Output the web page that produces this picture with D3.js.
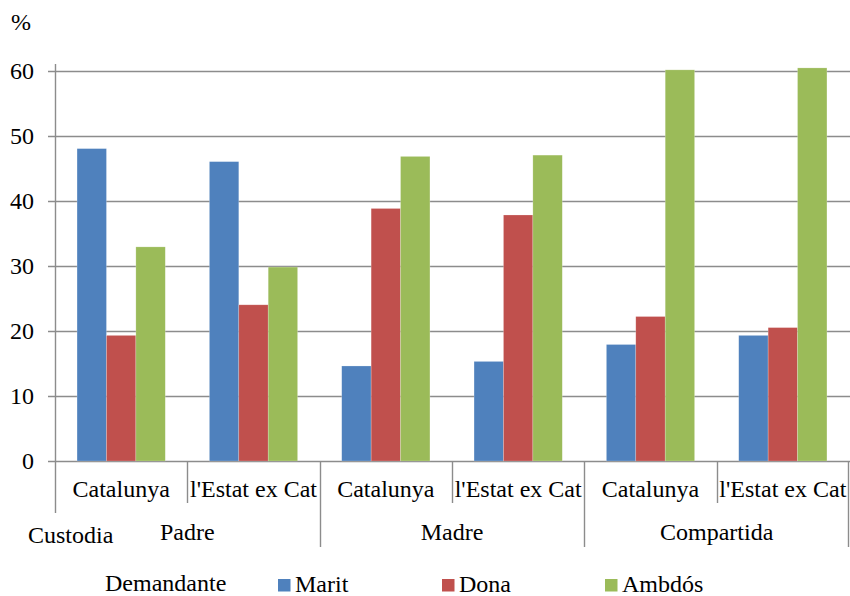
<!DOCTYPE html>
<html>
<head>
<meta charset="utf-8">
<script src="https://cdn.jsdelivr.net/npm/d3@7"></script>
<style>
  html, body { margin: 0; padding: 0; background: #fff; }
  svg { display: block; }
  svg text { font-family: "Liberation Serif", "Times New Roman", serif; font-size: 24px; fill: #000; }
</style>
</head>
<body>
<svg id="chart" width="850" height="596"></svg>
<script>
const groups = ["Padre", "Madre", "Compartida"];
const regions = ["Catalunya", "l'Estat ex Cat"];
const seriesNames = ["Marit", "Dona", "Ambdós"];
const marit = [48.0, 46.0, 14.6, 15.3, 17.9, 19.3];
const dona = [19.3, 24.0, 38.8, 37.8, 22.2, 20.5];
const ambdos = [32.9, 29.8, 46.8, 47.0, 60.1, 60.4];
const yTicks = [0, 10, 20, 30, 40, 50, 60];
const colors = ["#4F81BD", "#C0504D", "#9BBB59"];

const seriesValues = [marit, dona, ambdos];
const categories = [];
groups.forEach(g => regions.forEach(r => categories.push({ key: g + "|" + r, group: g, region: r })));

const svg = d3.select("#chart");
const plotLeft = 55, plotRight = 849, plotTop = 64, plotBottom = 461;

const x = d3.scaleBand().domain(categories.map(c => c.key)).range([plotLeft, plotRight]).padding(0);
const xInner = d3.scaleBand().domain(seriesNames)
  .range([x.bandwidth() / 6, x.bandwidth() * 5 / 6]).padding(0);
const y = d3.scaleLinear().domain([0, 61]).range([plotBottom, plotTop]);

const axisColor = "#8c8c8c";

// gridlines + tick marks
svg.append("g").selectAll("line").data(yTicks).join("line")
  .attr("x1", plotLeft - 7).attr("x2", plotRight + 1)
  .attr("y1", d => Math.round(y(d)) + 0.5).attr("y2", d => Math.round(y(d)) + 0.5)
  .attr("stroke", axisColor).attr("stroke-width", 1.4);

// y labels
svg.append("g").selectAll("text").data(yTicks).join("text")
  .attr("x", 34).attr("y", d => y(d) + 8)
  .attr("text-anchor", "end").text(d => d);

svg.append("text").attr("x", 11).attr("y", 30).text("%");

// bars
const rows = categories.map((c, i) => ({ cat: c, vals: seriesValues.map((s, j) => ({ name: seriesNames[j], v: s[i], color: colors[j] })) }));
svg.append("g").selectAll("g").data(rows).join("g")
  .attr("transform", d => `translate(${x(d.cat.key)},0)`)
  .selectAll("rect").data(d => d.vals).join("rect")
  .attr("x", d => xInner(d.name))
  .attr("width", xInner.bandwidth())
  .attr("y", d => y(d.v))
  .attr("height", d => y(0) - y(d.v))
  .attr("fill", d => d.color)
  .attr("stroke", "rgba(255,255,255,0.35)").attr("stroke-width", 0.6);

// vertical axis line
svg.append("line").attr("x1", plotLeft + 0.5).attr("x2", plotLeft + 0.5).attr("y1", plotTop).attr("y2", 513)
  .attr("stroke", axisColor).attr("stroke-width", 1.4);

// category separators
categories.forEach((c, i) => {
  if (i === 0) return;
  const xx = Math.round(x(c.key)) + 0.5;
  const isGroup = c.region === regions[0];
  svg.append("line").attr("x1", xx).attr("x2", xx).attr("y1", plotBottom).attr("y2", isGroup ? 547 : 503)
    .attr("stroke", axisColor).attr("stroke-width", 1.4);
});
svg.append("line").attr("x1", plotRight - 0.5).attr("x2", plotRight - 0.5).attr("y1", plotBottom).attr("y2", 547)
  .attr("stroke", axisColor).attr("stroke-width", 1.4);

// region labels
svg.append("g").selectAll("text").data(categories).join("text")
  .attr("x", d => x(d.key) + x.bandwidth() / 2).attr("y", 497)
  .attr("text-anchor", "middle").text(d => d.region);

// group labels
svg.append("g").selectAll("text").data(groups).join("text")
  .attr("x", g => x(g + "|" + regions[0]) + x.bandwidth()).attr("y", 540)
  .attr("text-anchor", "middle").text(g => g);

svg.append("text").attr("x", 28).attr("y", 543).text("Custodia");
svg.append("text").attr("x", 105).attr("y", 591).text("Demandante");

// legend
const legendX = [278, 442, 605];
const lg = svg.append("g").selectAll("g").data(seriesNames).join("g")
  .attr("transform", (d, i) => `translate(${legendX[i]},579)`);
lg.append("rect").attr("width", 12.5).attr("height", 12.5).attr("fill", (d, i) => colors[i]);
lg.append("text").attr("x", 17).attr("y", 13).text(d => d);
</script>
</body>
</html>
